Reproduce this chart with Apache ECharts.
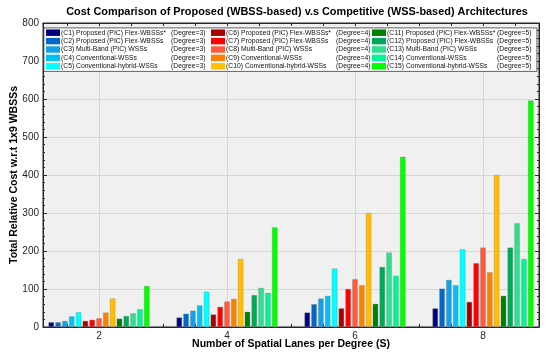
<!DOCTYPE html>
<html><head><meta charset="utf-8">
<script src="https://cdn.jsdelivr.net/npm/echarts@6/dist/echarts.min.js"></script>
<style>html,body{margin:0;padding:0;background:#fff}#c{width:550px;height:359px}</style>
</head><body><div id="c"></div>
<script>
const lanes = [2, 4, 6, 8];
const seriesNames = [
  '(C1) Proposed (PIC) Flex-WBSSs*', '(C2) Proposed (PIC) Flex-WBSSs', '(C3) Multi-Band (PIC) WSSs', '(C4) Conventional-WSSs', '(C5) Conventional-hybrid-WSSs',
  '(C6) Proposed (PIC) Flex-WBSSs*', '(C7) Proposed (PIC) Flex-WBSSs', '(C8) Multi-Band (PIC) WSSs', '(C9) Conventional-WSSs', '(C10) Conventional-hybrid-WSSs',
  '(C11) Proposed (PIC) Flex-WBSSs*', '(C12) Proposed (PIC) Flex-WBSSs', '(C13) Multi-Band (PIC) WSSs', '(C14) Conventional-WSSs', '(C15) Conventional-hybrid-WSSs'
];
const degrees = [3,3,3,3,3, 4,4,4,4,4, 5,5,5,5,5];
const C1  = [12.5, 25, 38, 49];
const C2  = [12.5, 35, 60, 101];
const C3  = [16, 43, 75, 124];
const C4  = [28, 57, 82, 110];
const C5  = [39, 93, 154, 205];
const C6  = [16, 33, 49, 66];
const C7  = [19, 53, 100, 168];
const C8  = [23, 67, 126, 209];
const C9  = [38, 74, 110, 144];
const C10 = [75, 179, 300, 400];
const C11 = [22, 40, 61, 82];
const C12 = [29, 84, 158, 209];
const C13 = [36, 103, 196, 273];
const C14 = [47, 90, 135, 179];
const C15 = [108, 262, 448, 596];
const values = [C1,C2,C3,C4,C5,C6,C7,C8,C9,C10,C11,C12,C13,C14,C15];
const colors = ['#000080','#0068c8','#12a0e6','#00c2f2','#00ffff',
                '#a80000','#ff0000','#ff5a3c','#ff8000','#ffbf00',
                '#007f00','#00a85a','#2ee08c','#00f59a','#00ff00'];
const xTickLabels = [2, 4, 6, 8];
const xMinorTicks = [1.5,2,2.5,3,3.5,4,4.5,5,5.5,6,6.5,7,7.5,8,8.5];

const FONT = 'Liberation Sans';
const chart = echarts.init(document.getElementById('c'), null, {renderer:'canvas'});

const series = values.map((vals, i) => ({
  name: seriesNames[i],
  type: 'bar',
  xAxisIndex: 0, yAxisIndex: 0,
  barWidth: 5.5,
  barGap: '24%',
  data: lanes.map((x, k) => [x, vals[k]]),
  itemStyle: {color: colors[i], borderColor: 'rgba(120,120,120,0.6)', borderWidth: 0.5},
  emphasis: {disabled: true},
  z: 3
}));

function legendFor(idx, left) {
  return {
    show: true,
    orient: 'vertical',
    left: left, top: 29.2,
    padding: 0,
    itemGap: 1.4,
    itemWidth: 14, itemHeight: 6.5,
    icon: 'rect',
    selectedMode: false,
    data: seriesNames.slice(idx, idx + 5).map(n => ({name: n, itemStyle: {borderWidth: 0}})),
    formatter: name => {
      const i = seriesNames.indexOf(name);
      return '{a|' + name + '}{b|(Degree=' + degrees[i] + ')}';
    },
    textStyle: {
      fontFamily: FONT, fontSize: 6.8, color: '#111', padding: [0,0,0,-4],
      rich: {a: {width: 110, fontFamily: FONT, fontSize: 6.8, color: '#111'},
             b: {fontFamily: FONT, fontSize: 6.8, color: '#111'}}
    }
  };
}

const axisCol = '#262626';
const option = {
  animation: false,
  backgroundColor: '#fff',
  title: {
    text: 'Cost Comparison of Proposed (WBSS-based) v.s Competitive (WSS-based) Architectures',
    left: 292, top: 1, textAlign: 'center',
    textStyle: {fontFamily: FONT, fontSize: 10.9, fontWeight: 'bold', color: '#000'}
  },
  grid: {left: 43, right: 11, top: 23, bottom: 32, show: true, backgroundColor: '#f0f0f0', borderColor: axisCol, borderWidth: 1, containLabel: false, outerBoundsMode: 'none'},
  legend: [legendFor(0, 46), legendFor(5, 211), legendFor(10, 372)],
  graphic: [{
    type: 'rect', left: 43.5, top: 27.5, z: 3,
    shape: {width: 493, height: 43.5},
    style: {fill: '#fff', stroke: '#3a3a3a', lineWidth: 0.8}
  }],
  xAxis: [{
    type: 'value', min: 1.125, max: 8.875, position: 'bottom',
    name: 'Number of Spatial Lanes per Degree (S)', nameLocation: 'middle', nameGap: 12, nameMoveOverlap: false,
    nameTextStyle: {fontFamily: FONT, fontSize: 10.5, fontWeight: 'bold', color: '#000', verticalAlign: 'top'},
    axisLine: {show: true, lineStyle: {color: axisCol, width: 1}},
    axisTick: {show: true, inside: true, length: 3, customValues: xMinorTicks, lineStyle: {color: axisCol}},
    axisLabel: {show: true, customValues: xTickLabels, fontFamily: FONT, fontSize: 10, color: axisCol, margin: 4},
    splitLine: {show: false}
  }, {
    type: 'value', min: 1.125, max: 8.875, position: 'bottom',
    axisLine: {show: false}, axisLabel: {show: false},
    axisTick: {show: false, customValues: xTickLabels},
    splitLine: {show: true, lineStyle: {color: '#d6d6d6', width: 1}}
  }, {
    type: 'value', min: 1.125, max: 8.875, position: 'top',
    axisLine: {show: true, lineStyle: {color: axisCol, width: 1}}, axisLabel: {show: false},
    axisTick: {show: true, inside: true, length: 3, customValues: xMinorTicks, lineStyle: {color: axisCol}},
    splitLine: {show: false}
  }],
  yAxis: [{
    type: 'value', min: 0, max: 800, interval: 100, position: 'left',
    name: 'Total Relative Cost w.r.t 1x9 WBSSs', nameLocation: 'middle', nameGap: 23, nameMoveOverlap: false,
    nameTextStyle: {fontFamily: FONT, fontSize: 10.5, fontWeight: 'bold', color: '#000'},
    axisLine: {show: true, lineStyle: {color: axisCol, width: 1}},
    axisTick: {show: true, inside: true, length: 4, lineStyle: {color: axisCol}},
    minorTick: {show: true, splitNumber: 5, length: 2, lineStyle: {color: axisCol}},
    axisLabel: {fontFamily: FONT, fontSize: 10, color: axisCol, margin: 4},
    splitLine: {show: true, lineStyle: {color: '#d6d6d6', width: 1}}
  }, {
    type: 'value', min: 0, max: 800, interval: 100, position: 'right',
    axisLine: {show: true, lineStyle: {color: axisCol, width: 1}},
    axisTick: {show: true, inside: true, length: 4, lineStyle: {color: axisCol}},
    minorTick: {show: true, splitNumber: 5, length: 2, lineStyle: {color: axisCol}},
    axisLabel: {show: false},
    splitLine: {show: false}
  }],
  series: series
};
chart.setOption(option);
</script>
</body></html>
